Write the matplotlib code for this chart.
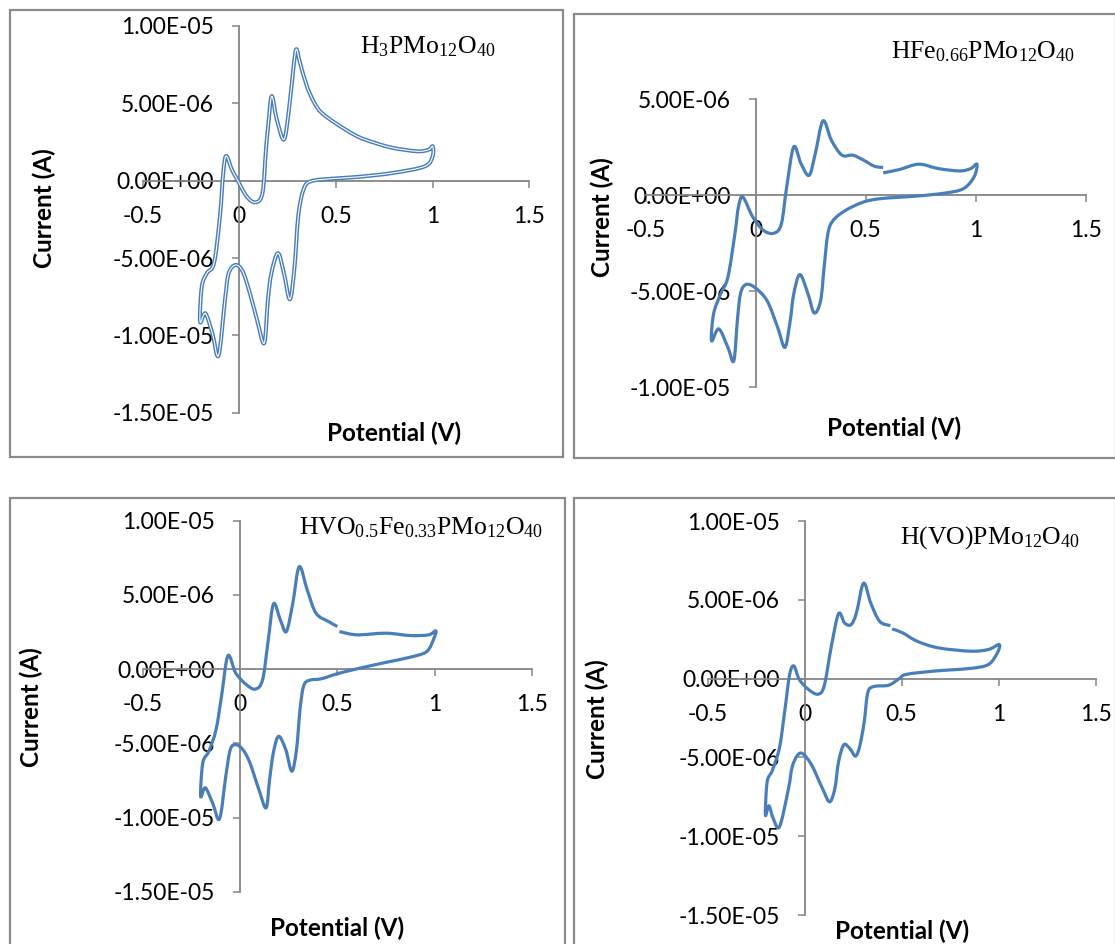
import numpy as np
import matplotlib
matplotlib.use('Agg')
import matplotlib.pyplot as plt
from matplotlib.path import Path
from matplotlib.patches import PathPatch
from matplotlib.ticker import FuncFormatter, MultipleLocator

# Datos (potencial en V, corriente en uA)

titulos = [r'$\mathrm{H_{3}PMo_{12}O_{40}}$',
           r'$\mathrm{HFe_{0.66}PMo_{12}O_{40}}$',
           r'$\mathrm{HVO_{0.5}Fe_{0.33}PMo_{12}O_{40}}$',
           r'$\mathrm{H(VO)PMo_{12}O_{40}}$']

E_h3 = [-0.203, -0.194, -0.167, -0.13, -0.10, -0.083, -0.068, -0.038, -0.01, 0.037, 0.083, 0.12, 0.138,
        0.151, 0.168, 0.194, 0.231, 0.257, 0.281, 0.295, 0.314, 0.35, 0.388, 0.425, 0.5, 0.61, 0.7,
        0.794, 0.92, 0.979, 1.0,
        1.0, 0.96, 0.794, 0.609, 0.48, 0.37, 0.332, 0.305, 0.286, 0.262, 0.231, 0.2, 0.166, 0.148,
        0.129, 0.092, 0.055, 0.018, -0.019, -0.055, -0.074, -0.107, -0.139, -0.175, -0.203]
I_h3 = [-9.12, -6.85, -5.97, -5.3, -2.3, 0.5, 1.6, 0.71, 0.06, -1.0, -1.4, -0.8, 2.0,
        3.74, 5.47, 3.96, 2.66, 4.6, 7.4, 8.5, 7.63, 6.1, 5.04, 4.4, 3.7, 2.87, 2.45,
        2.12, 1.9, 2.0, 2.22,
        1.58, 0.93, 0.5, 0.24, 0.13, -0.04, -0.58, -2.3, -5.56, -7.67, -5.99, -4.69, -5.99, -7.72,
        -10.5, -9.0, -7.28, -5.88, -5.45, -6.0, -7.72, -11.3, -9.88, -8.58, -9.12]

E_fe = [0.579, 0.652, 0.741, 0.83, 0.927, 0.976, 1.005,
        0.992, 0.944, 0.862, 0.732, 0.571, 0.49, 0.409, 0.352, 0.328, 0.311, 0.295, 0.266, 0.238,
        0.201, 0.173, 0.157, 0.133, 0.1, 0.052, -0.005, -0.045, -0.069, -0.083, -0.099, -0.126,
        -0.167, -0.2,
        -0.191, -0.159, -0.126, -0.094, -0.078, -0.058, -0.013, 0.036, 0.084, 0.117, 0.141, 0.173,
        0.206, 0.243, 0.271, 0.306, 0.344, 0.392, 0.441, 0.49, 0.538, 0.579]
I_fe = [1.17, 1.34, 1.62, 1.39, 1.27, 1.39, 1.62,
        0.96, 0.35, 0.12, -0.04, -0.17, -0.35, -0.78, -1.31, -2.0, -3.75, -5.49, -6.13, -5.14,
        -4.13, -5.14, -6.53, -7.92, -6.88, -5.49, -4.79, -4.65, -5.14, -6.53, -8.62, -7.92,
        -6.96, -7.58,
        -6.18, -5.14, -4.27, -2.0, -0.61, -0.09, -1.13, -1.83, -1.97, -1.48, 0.43, 2.52,
        1.65, 1.04, 2.18, 3.88, 2.87, 2.09, 2.09, 1.83, 1.52, 1.45]

E_vofe = [0.51, 0.601, 0.748, 0.876, 0.968, 1.005,
          0.996, 0.959, 0.876, 0.748, 0.601, 0.5, 0.418, 0.354, 0.326, 0.308, 0.29, 0.266, 0.235,
          0.198, 0.171, 0.152, 0.134, 0.097, 0.051, 0.015, -0.022, -0.05, -0.073, -0.105, -0.141,
          -0.178, -0.202,
          -0.191, -0.16, -0.123, -0.095, -0.062, -0.022, 0.033, 0.079, 0.116, 0.143, 0.172, 0.207,
          0.238, 0.271, 0.304, 0.345, 0.39, 0.455, 0.5]
I_vofe = [2.53, 2.31, 2.42, 2.26, 2.31, 2.58,
          2.09, 1.19, 0.81, 0.45, 0.02, -0.31, -0.65, -0.76, -1.17, -2.74, -5.43, -6.88, -5.43,
          -4.53, -5.65, -7.44, -9.35, -8.12, -6.32, -5.43, -5.09, -5.43, -7.22, -10.09, -9.01,
          -8.0, -8.57,
          -6.32, -5.54, -4.08, -1.84, 0.9, -0.27, -1.05, -1.35, -0.72, 1.75, 4.39, 3.32,
          2.53, 4.44, 6.9, 5.34, 3.77, 3.2, 2.87]

E_vo = [0.451, 0.506, 0.58, 0.69, 0.856, 0.948, 1.003,
        0.994, 0.948, 0.856, 0.672, 0.525, 0.488, 0.433, 0.359, 0.326, 0.307, 0.285, 0.263, 0.234,
        0.202, 0.175, 0.156, 0.129, 0.092, 0.037, -0.009, -0.037, -0.064, -0.083, -0.129, -0.162,
        -0.184, -0.202,
        -0.193, -0.166, -0.129, -0.101, -0.077, -0.055, -0.028, 0.018, 0.068, 0.101, 0.138, 0.175,
        0.206, 0.239, 0.267, 0.304, 0.341, 0.387, 0.442]
I_vo = [3.15, 2.9, 2.37, 1.95, 1.74, 1.85, 2.16,
        1.64, 0.9, 0.65, 0.48, 0.27, 0.0, -0.42, -0.5, -0.88, -2.77, -4.24, -4.92, -4.45,
        -4.2, -5.29, -6.97, -7.82, -6.97, -5.5, -4.77, -4.87, -5.61, -6.97, -9.39, -8.87,
        -8.07, -8.66,
        -6.55, -5.82, -4.35, -1.93, 0.27, 0.8, -0.04, -0.67, -0.99, -0.46, 2.06, 4.12,
        3.53, 3.42, 4.16, 6.05, 4.79, 3.63, 3.36]

potenciales = [E_h3, E_fe, E_vofe, E_vo]
corrientes = [I_h3, I_fe, I_vofe, I_vo]
cerradas = [True, False, False, False]
limites_y = [(-1.5e-5, 1e-5), (-1e-5, 5e-6), (-1.5e-5, 1e-5), (-1.5e-5, 1e-5)]

# Posiciones en pixeles (figura de 1115 x 944)
W, H = 1115, 944
cajas = [(9.5, 9.5, 562.5, 456.5), (574, 14, 1116, 457.5), (10, 498, 565, 946), (574, 498, 1116, 946)]
ejes = [(142.6, 529.3, 26, 412.7), (645.5, 1086, 99.3, 387.3), (142.6, 532.2, 520.7, 891.7), (707.6, 1095.6, 521, 915)]
pos_titulo = [(428, 47), (983, 52), (421, 528), (990, 538)]
pos_ylabel = [(44, 208), (602, 217), (31, 707), (597, 719)]
pos_xlabel = [(394, 433), (894, 428), (337, 928), (902, 931)]

azul = '#4a7ebb'
gris = '#868686'


def linea_suavizada(x, y, cerrada):  # linea suavizada tipo Excel (Catmull-Rom como Bezier)
    P = np.column_stack([x, y])
    if cerrada:
        ext = np.vstack([P[-2], P, P[1]])
    else:
        ext = np.vstack([P[0], P, P[-1]])
    verts = [P[0]]
    codes = [Path.MOVETO]
    for i in range(len(P) - 1):
        p0, p1, p2, p3 = ext[i], ext[i + 1], ext[i + 2], ext[i + 3]
        verts += [p1 + (p2 - p0) / 6, p2 - (p3 - p1) / 6, p2]
        codes += [Path.CURVE4] * 3
    return Path(verts, codes)


plt.rcParams['font.family'] = 'Lato'
plt.rcParams['mathtext.fontset'] = 'custom'
plt.rcParams['mathtext.rm'] = 'Liberation Serif'

fig = plt.figure(figsize=(W/100, H/100), dpi=100)

for k in range(4):
    x0, y0, x1, y1 = cajas[k]
    fig.add_artist(plt.Rectangle((x0/W, 1 - y1/H), (x1 - x0)/W, (y1 - y0)/H,
                                 transform=fig.transFigure, fill=False, ec='#8a8a8a', lw=1.6))

    l, r, t, b = ejes[k]
    ax = fig.add_axes([l/W, 1 - b/H, (r - l)/W, (b - t)/H])
    ax.patch.set_alpha(0)

    E = np.array(potenciales[k])
    I = np.array(corrientes[k]) * 1e-6
    camino = linea_suavizada(E, I, cerradas[k])
    if k == 0:
        # dos ciclos casi superpuestos: linea doble
        ax.add_patch(PathPatch(camino, fc='none', ec=azul, lw=2.9, joinstyle='round', zorder=3))
        ax.add_patch(PathPatch(camino, fc='none', ec='white', lw=0.8, joinstyle='round', zorder=4))
    else:
        ax.add_patch(PathPatch(camino, fc='none', ec=azul, lw=2.3, joinstyle='round', zorder=3))

    ax.set_xlim(-0.5, 1.5)
    ax.set_ylim(*limites_y[k])
    ax.xaxis.set_major_locator(MultipleLocator(0.5))
    ax.yaxis.set_major_locator(MultipleLocator(5e-6))
    ax.xaxis.set_major_formatter(FuncFormatter(lambda v, p: '%g' % v))
    ax.yaxis.set_major_formatter(FuncFormatter(lambda v, p: '%.2E' % v))

    ax.spines['left'].set_position(('data', 0))
    ax.spines['bottom'].set_position(('data', 0))
    ax.spines['top'].set_visible(False)
    ax.spines['right'].set_visible(False)
    for s in ['left', 'bottom']:
        ax.spines[s].set_color(gris)
        ax.spines[s].set_linewidth(1.3)
    ax.tick_params(direction='out', length=5, width=1.1, color=gris, labelsize=16.5,
                   labelcolor='black', pad=13)

    tx, ty = pos_titulo[k]
    fig.text(tx/W, 1 - ty/H, titulos[k], fontsize=18.5, ha='center', va='center')
    lx, ly = pos_ylabel[k]
    fig.text(lx/W, 1 - ly/H, 'Current (A)', fontsize=17.5, fontweight='bold',
             rotation=90, ha='center', va='center')
    lx, ly = pos_xlabel[k]
    fig.text(lx/W, 1 - ly/H, 'Potential (V)', fontsize=17.5, fontweight='bold',
             ha='center', va='center')

fig.savefig('out.png', dpi=100)
